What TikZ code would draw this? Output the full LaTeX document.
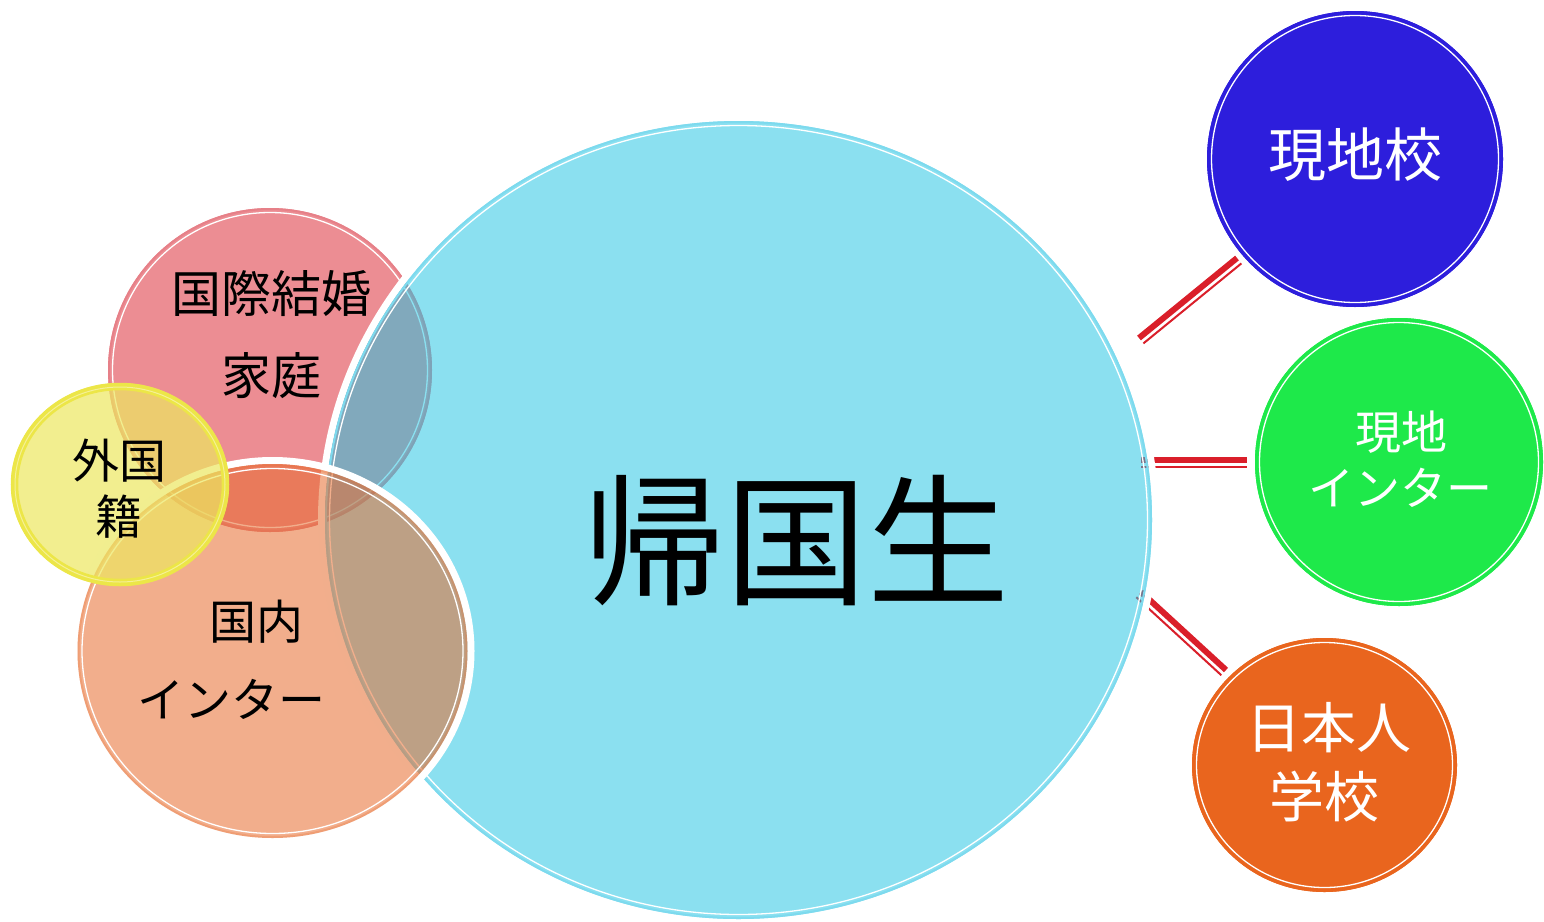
\documentclass[tikz,border=0pt]{standalone}
\usepackage{fontspec}
\newfontfamily\jp{Noto Sans CJK JP}
\definecolor{pinkc}{RGB}{236,141,147}
\definecolor{pinkline}{RGB}{230,128,136}
\definecolor{bluefill}{RGB}{32,196,227}
\definecolor{blueline}{RGB}{125,218,238}
\definecolor{orangefill}{RGB}{231,108,46}
\definecolor{yellowfill}{RGB}{236,231,96}
\definecolor{yellowring}{RGB}{236,230,72}
\definecolor{yellowlight}{RGB}{245,240,150}
\definecolor{navyc}{RGB}{45,30,220}
\definecolor{greenc}{RGB}{30,233,74}
\definecolor{orangec}{RGB}{233,101,30}
\definecolor{redc}{RGB}{218,31,42}
\tikzset{
  halo/.style={draw=white, line width=7pt},
  rim/.style={line width=2pt},
  innerw/.style={draw=white, line width=1.3pt},
  conthick/.style={draw=redc, line width=6pt},
  conthin/.style={draw=redc, line width=2pt},
  lbl/.style={inner sep=0pt, anchor=center},
}
\begin{document}
\begin{tikzpicture}[x=1pt,y=-1pt]
\useasboundingbox (0,0) rectangle (1544,921);

% pink circle (bottom layer)
\fill[pinkc] (270,370) circle[radius=162];
\draw[pinkline, rim] (270,370) circle[radius=161];
\draw[innerw] (270,370) circle[radius=157.5];

% connectors (begin under the big circle)
\coordinate (t1) at (1139,338);   \coordinate (t2) at (1237,258);
\coordinate (t3) at (1143.4,343.4); \coordinate (t4) at (1241.4,263.4);
\coordinate (m1) at (1141,460);   \coordinate (m2) at (1247,460);
\coordinate (m3) at (1141,467);   \coordinate (m4) at (1247,467);
\coordinate (b1) at (1141,592);   \coordinate (b2) at (1226,670);
\coordinate (b3) at (1136.3,597.2); \coordinate (b4) at (1221.3,675.2);
\draw[conthick] (t1) -- (t2);
\draw[conthin] (t3) -- (t4);
\draw[conthick] (m1) -- (m2);
\draw[conthin] (m3) -- (m4);
\draw[conthick] (b1) -- (b2);
\draw[conthin] (b3) -- (b4);

% big blue ellipse
\draw[halo] (738.5,520) ellipse[x radius=417, y radius=402.5];
\fill[bluefill, fill opacity=0.52] (738.5,520) ellipse[x radius=413.5, y radius=399];
\draw[blueline, rim] (738.5,520) ellipse[x radius=412.5, y radius=398];
\draw[innerw] (738.5,520) ellipse[x radius=409, y radius=394.5];

% orange circle
\draw[halo] (272.5,651) ellipse[x radius=198.5, y radius=190.5];
\fill[orangefill, fill opacity=0.55] (272.5,651) ellipse[x radius=195, y radius=187];
\draw[orangefill, draw opacity=0.25, rim] (272.5,651) ellipse[x radius=194, y radius=186];
\draw[innerw] (272.5,651) ellipse[x radius=190.5, y radius=182.5];

% yellow circle
\fill[yellowfill, fill opacity=0.7] (120,484.5) ellipse[x radius=109, y radius=101.5];
\draw[yellowring, line width=7.5pt] (120,484.5) ellipse[x radius=105.5, y radius=98];
\draw[yellowlight, line width=1pt] (120,484.5) ellipse[x radius=105, y radius=97.5];

% right circles
\fill[navyc] (1355,159) circle[radius=148];
\draw[navyc, rim] (1355,159) circle[radius=147];
\draw[innerw] (1355,159) circle[radius=143.5];

\fill[greenc] (1399,462) circle[radius=144];
\draw[greenc, rim] (1399,462) circle[radius=143];
\draw[innerw] (1399,462) circle[radius=139.5];

\fill[orangec] (1324.5,765) ellipse[x radius=132.5, y radius=127];
\draw[orangec, rim] (1324.5,765) ellipse[x radius=131.5, y radius=126];
\draw[innerw] (1324.5,765) ellipse[x radius=128, y radius=122.5];

% labels
\node[lbl, font={\jp\fontsize{142}{150}\selectfont}] (kikoku) at (796,541) {帰国生};
\node[lbl, font={\jp\fontsize{50}{60}\selectfont}] (kokusai) at (271,294) {国際結婚};
\node[lbl, font={\jp\fontsize{50}{60}\selectfont}] (katei) at (271,376) {家庭};
\node[lbl, font={\jp\fontsize{47}{56}\selectfont}] (gaikoku) at (119,461) {外国};
\node[lbl, font={\jp\fontsize{47}{56}\selectfont}] (seki) at (119,517) {籍};
\node[lbl, font={\jp\fontsize{47}{56}\selectfont}] (kokunai) at (256,622) {国内};
\node[lbl, font={\jp\fontsize{47}{56}\selectfont}] (inter1) at (231,699) {インター};
\node[lbl, white, font={\jp\fontsize{58}{66}\selectfont}] (genchiko) at (1355,155) {現地校};
\node[lbl, white, font={\jp\fontsize{46}{54}\selectfont}] (genchi) at (1401,432) {現地};
\node[lbl, white, font={\jp\fontsize{46}{54}\selectfont}] (inter2) at (1400,488) {インター};
\node[lbl, white, font={\jp\fontsize{55}{62}\selectfont}] (nihonjin) at (1329,728) {日本人};
\node[lbl, white, font={\jp\fontsize{55}{62}\selectfont}] (gakko) at (1324,797) {学校};
\end{tikzpicture}
\end{document}
